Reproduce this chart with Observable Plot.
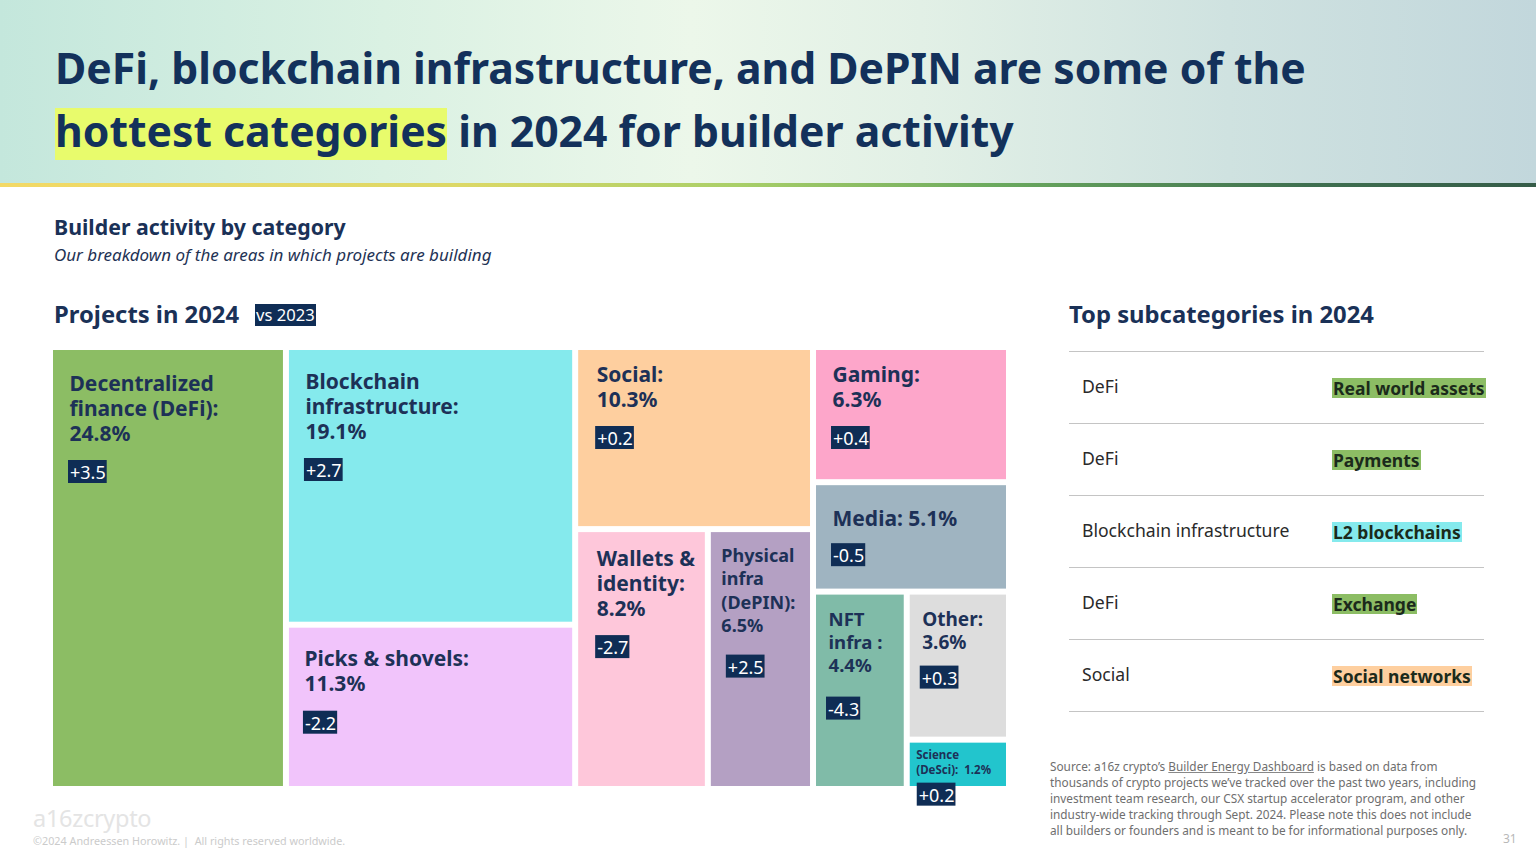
<!DOCTYPE html>
<html>
<head>
<meta charset="utf-8">
<script src="https://cdn.jsdelivr.net/npm/d3@7"></script>
<script src="https://cdn.jsdelivr.net/npm/@observablehq/plot@0.6"></script>
<style>
  html, body { margin: 0; padding: 0; }
  body { width: 1536px; height: 864px; position: relative; overflow: hidden; background: #fff;
         font-family: "Noto Sans", sans-serif; color: #133260; }
  #header { position: absolute; left: 0; top: 0; width: 1536px; height: 183px;
    background: linear-gradient(90deg, #c4e7dc 0%, #daf1e3 25%, #ecf7ea 45%, #e2f0e6 60%, #cfe2e0 80%, #c2d7dc 100%); }
  #hline { position: absolute; left: 0; top: 183px; width: 1536px; height: 4px;
    background: linear-gradient(90deg, #f3d966 0%, #dcd866 30%, #a9cf68 48%, #6aa95e 65%, #3f7050 85%, #355c48 100%); }
  #title { position: absolute; left: 55px; top: 36px; font-size: 42.7px; line-height: 63px; font-weight: 700;
    color: #13315b; white-space: nowrap; }
  #title .hl { background: linear-gradient(#0000 12%, #e8fb6c 12%, #e8fb6c 100%); }
  .abs { position: absolute; white-space: nowrap; }
  #h2 { left: 54px; top: 216px; font-size: 21.3px; line-height: 21px; font-weight: 700; color: #1a3157; }
  #h2sub { left: 54px; top: 246px; font-size: 17px; line-height: 17px; font-style: italic; color: #1f3355; }
  #h3 { left: 54px; top: 302px; font-size: 23.8px; line-height: 24px; font-weight: 700; color: #1a3157; }
  #vs { left: 255px; top: 304px; height: 22px; line-height: 22px; font-size: 16.6px; color: #fff; background: #0f2d55; padding: 0 1px; }
  #h3r { left: 1069px; top: 302px; font-size: 23.8px; line-height: 24px; font-weight: 700; color: #1a3157; }
  #chart { position: absolute; left: 53px; top: 350px; }
  #table { position: absolute; left: 1069px; top: 351px; width: 415px; }
  .row { height: 71px; border-top: 1.5px solid #c4c4c4; position: relative; }
  .row:last-child { border-bottom: 1.5px solid #c4c4c4; }
  .row span { white-space: nowrap; }
  .row .l { position: absolute; left: 13px; font-size: 17.6px; color: #2a2a2a; top: 22px; }
  .row .r { position: absolute; left: 263px; font-size: 17.5px; font-weight: 700; color: #1b2a1b; top: 26px; line-height: 20px; padding: 0 1px; }
  #source { left: 1050px; top: 758px; font-size: 11.8px; line-height: 16px; color: #6e6e6e; }
  #source u { text-decoration-color: #888; }
  #page { left: 1503px; top: 830px; font-size: 12px; color: #b8b8b8; }
  #logo { left: 33px; top: 803px; font-size: 23.5px; line-height: 30px; color: #e4e4e4; letter-spacing: -0.3px; }
  #copy { left: 33px; top: 835px; font-size: 10.8px; line-height: 12px; color: #cbcbcb; }
</style>
</head>
<body>
<div id="header"></div>
<div id="hline"></div>
<div id="title">DeFi, blockchain infrastructure, and DePIN are some of the<br><span class="hl">hottest categories</span> in 2024 for builder activity</div>
<div class="abs" id="h2">Builder activity by category</div>
<div class="abs" id="h2sub">Our breakdown of the areas in which projects are building</div>
<div class="abs" id="h3">Projects in 2024</div>
<div class="abs" id="vs">vs 2023</div>
<div class="abs" id="h3r">Top subcategories in 2024</div>
<div id="chart"></div>
<div id="table"></div>
<div class="abs" id="source">Source: a16z crypto’s <u>Builder Energy Dashboard</u> is based on data from<br>thousands of crypto projects we’ve tracked over the past two years, including<br>investment team research, our CSX startup accelerator program, and other<br>industry-wide tracking through Sept. 2024. Please note this does not include<br>all builders or founders and is meant to be for informational purposes only.</div>
<div class="abs" id="page">31</div>
<div class="abs" id="logo">a16zcrypto</div>
<div class="abs" id="copy">©2024 Andreessen Horowitz.&nbsp;|&nbsp; All rights reserved worldwide.</div>

<script>
// ---------- DATA ----------
const categories = ["Decentralized finance (DeFi)", "Blockchain infrastructure", "Picks & shovels", "Social",
  "Wallets & identity", "Physical infra (DePIN)", "Gaming", "Media", "NFT infra", "Other", "Science (DeSci)"];
const labels = ["Decentralized\nfinance (DeFi):", "Blockchain\ninfrastructure:", "Picks & shovels:", "Social:",
  "Wallets &\nidentity:", "Physical\ninfra\n(DePIN):", "Gaming:", "Media:", "NFT\ninfra :", "Other:", "Science\n(DeSci):"];
const labelSep = ["\n", "\n", "\n", "\n", "\n", "\n", "\n", " ", "\n", "\n", "  "];
const share2024 = [24.8, 19.1, 11.3, 10.3, 8.2, 6.5, 6.3, 5.1, 4.4, 3.6, 1.2];
const changeVs2023 = ["+3.5", "+2.7", "-2.2", "+0.2", "-2.7", "+2.5", "+0.4", "-0.5", "-4.3", "+0.3", "+0.2"];
// treemap grouping (which block each category sits in)
const categoryGroup = ["root", "col2", "col2", "col3a", "row3a", "row3a", "col3b", "col3b", "row3b", "col3c", "col3c"];
const groupIds = ["col2", "col3a", "row3a", "col3b", "row3b", "col3c"];
const groupParents = ["root", "root", "col3a", "root", "col3b", "row3b"];

const subCategoryOf = ["DeFi", "DeFi", "Blockchain infrastructure", "DeFi", "Social"];
const topSubcategories = ["Real world assets", "Payments", "L2 blockchains", "Exchange", "Social networks"];

// ---------- STYLE ----------
const colors = ["#8cbd64", "#85eaed", "#f1c4fb", "#fecf9f", "#fec7da", "#b4a0c3", "#fda6ca", "#9fb4c1", "#80bba8", "#dddddd", "#22c5cd"];
const subColor = {"DeFi": colors[0], "Blockchain infrastructure": colors[1], "Social": colors[3]};
const baseStyle = {fs: 21, lh: 25, padX: 16, base: 36, gap: 20, boxDx: -1};
const cellStyle = {
  "Decentralized finance (DeFi)": {base: 40},
  "Blockchain infrastructure": {base: 38},
  "Picks & shovels": {base: 38, padX: 15},
  "Social": {base: 31, padX: 18},
  "Wallets & identity": {base: 33, padX: 18},
  "Physical infra (DePIN)": {fs: 18, lh: 23.5, padX: 10, base: 29, gap: 23, boxDx: 5},
  "Gaming": {base: 31},
  "Media": {base: 40, gap: 18},
  "NFT infra": {fs: 18.6, lh: 23, padX: 12, base: 31, gap: 25, boxDx: -2},
  "Other": {fs: 19, lh: 23, padX: 12, base: 31, gap: 17, boxDx: -2},
  "Science (DeSci)": {fs: 11.5, lh: 15, padX: 6, base: 16, gap: 9, boxDx: 1}
};
const W = 953, H = 436, BOX_H = 23, BOX_FS = 18;

// ---------- LAYOUT ----------
const nodes = [{id: "root", parent: null}]
  .concat(groupIds.map((g, i) => ({id: g, parent: groupParents[i]})))
  .concat(categories.map((c, i) => ({id: c, parent: categoryGroup[i], share: share2024[i], index: i})));
const root = d3.stratify().id(d => d.id).parentId(d => d.parent)(nodes);
root.sum(d => d.share ?? 0);
root.eachAfter(n => { n.order = n.children ? d3.min(n.children, c => c.order) : n.data.index; });
root.sort((a, b) => a.order - b.order);
d3.treemap().size([W, H]).paddingInner(6).tile(d3.treemapSliceDice)(root);

const ctx = document.createElement("canvas").getContext("2d");
ctx.font = `400 ${BOX_FS}px "Noto Sans"`;

const cells = root.leaves().map(n => {
  const i = n.data.index;
  const st = Object.assign({}, baseStyle, cellStyle[categories[i]] || {});
  return {name: categories[i], i, x0: n.x0, y0: n.y0, x1: n.x1, y1: n.y1, color: colors[i], st,
    lines: (labels[i] + labelSep[i] + share2024[i] + "%").split("\n")};
});
const textLines = cells.flatMap(c => c.lines.map((t, j) => ({
  text: t, x: c.x0 + c.st.padX, y: c.y0 + c.st.base + j * c.st.lh, fs: c.st.fs
})));
const boxes = cells.map(c => {
  const top = c.y0 + c.st.base + (c.lines.length - 1) * c.st.lh + c.st.gap;
  const t = changeVs2023[c.i];
  const w = ctx.measureText(t).width;
  const left = c.x0 + c.st.padX + c.st.boxDx;
  return {text: t, bx1: left, bx2: left + w + 3, by1: top, by2: top + BOX_H, tx: left + 1.5, ty: top + BOX_H - 4.5};
});

const chart = Plot.plot({
  width: W, height: H + 16,
  marginTop: 0, marginLeft: 0, marginRight: 0, marginBottom: 16,
  x: {domain: [0, W], range: [0, W], axis: null},
  y: {domain: [0, H], range: [0, H], axis: null},
  style: {fontFamily: "'Noto Sans', sans-serif", overflow: "visible", background: "transparent"},
  marks: [
    Plot.rect(cells, {x1: "x0", x2: "x1", y1: "y0", y2: "y1", fill: "color"}),
    Plot.text(textLines, {x: "x", y: "y", text: "text", fontSize: d => d.fs, fontWeight: 700,
      fill: "#1d3157", textAnchor: "start", lineAnchor: "bottom"}),
    Plot.rect(boxes, {x1: "bx1", x2: "bx2", y1: "by1", y2: "by2", fill: "#0f2d55"}),
    Plot.text(boxes, {x: "tx", y: "ty", text: "text", fontSize: BOX_FS, fill: "#ffffff",
      textAnchor: "start", lineAnchor: "bottom"})
  ]
});
document.getElementById("chart").appendChild(chart);

// ---------- TABLE ----------
const table = document.getElementById("table");
topSubcategories.forEach((s, i) => {
  const row = document.createElement("div");
  row.className = "row";
  const l = document.createElement("span"); l.className = "l"; l.textContent = subCategoryOf[i];
  const r = document.createElement("span"); r.className = "r"; r.textContent = s;
  r.style.background = subColor[subCategoryOf[i]];
  row.appendChild(l); row.appendChild(r);
  table.appendChild(row);
});
</script>
</body>
</html>
